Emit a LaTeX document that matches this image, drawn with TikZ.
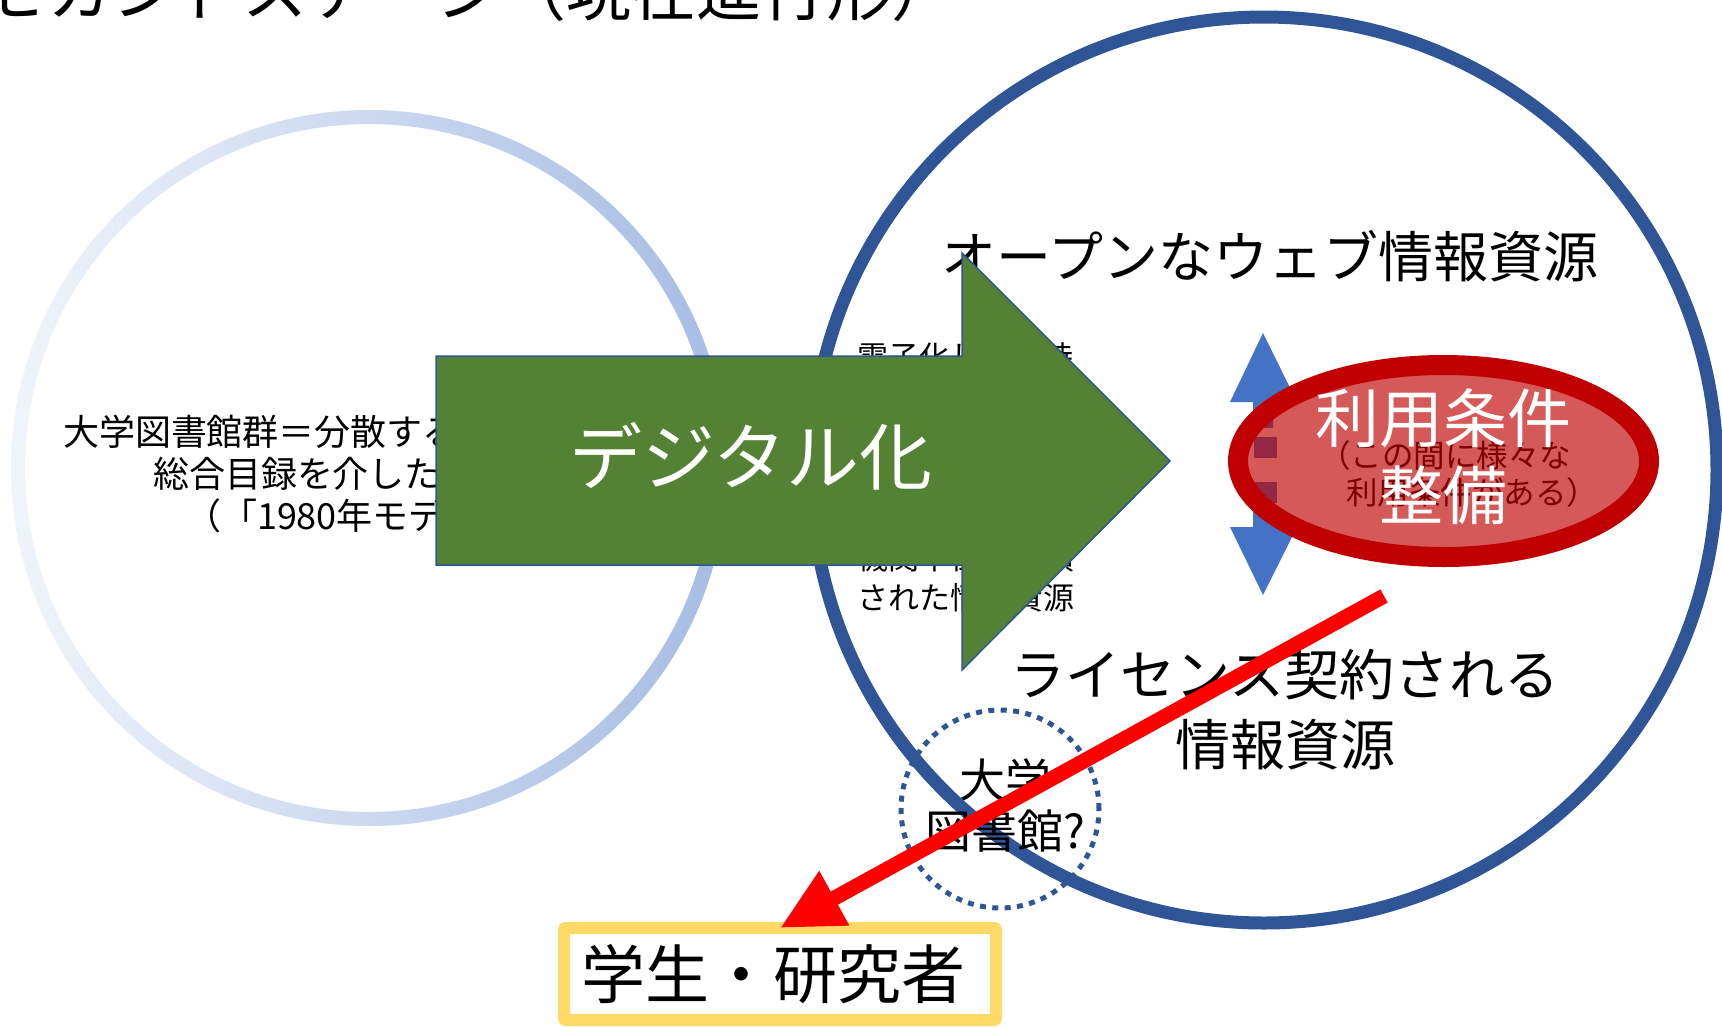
\documentclass[tikz,border=0pt]{standalone}
\usepackage{fontspec}
\setmainfont{Noto Sans CJK JP}
\usetikzlibrary{arrows.meta,shapes.geometric}
\definecolor{darkblue}{HTML}{2F5597}
\definecolor{argreen}{HTML}{548235}
\definecolor{dblue}{HTML}{4472C4}
\definecolor{ellred}{HTML}{C00000}
\definecolor{ringL}{HTML}{F0F4FB}
\definecolor{ringR}{HTML}{A6BCE3}
\definecolor{ybox}{HTML}{FFD966}
\definecolor{arrred}{HTML}{FF0000}
\tikzset{
  fz/.style 2 args={font=\fontsize{#1pt}{#2pt}\selectfont},
  bigring/.style={circle, draw=darkblue, line width=13pt},
  dotring/.style={circle, draw=darkblue, line width=5pt, dash pattern=on 6pt off 6.4pt},
  blockarrow/.style={fill=argreen, draw=darkblue, line width=1.5pt},
  condell/.style={ellipse, draw=ellred, line width=20pt, fill=ellred, fill opacity=0.65},
  studbox/.style={draw=ybox, line width=12pt, rounded corners=2pt, fill=white},
  redarrow/.style={draw=arrred, line width=15pt, -{Triangle[length=62pt,width=58pt]}},
  bulletsq/.style={fill=dblue}
}
\begin{document}
\begin{tikzpicture}[x=1pt,y=-1pt, every node/.style={inner sep=0pt, outer sep=0pt}]
\useasboundingbox (0,0) rectangle (1722,1026);
\fill[white] (0,0) rectangle (1722,1026);
\clip (0,0) rectangle (1722,1026);

% title (cut at top)
\node[fz={65}{70}, anchor=west] (title) at (-17,-9) {セカンドステージ（現在進行形）};

% left ring with gradient
\shade[left color=ringL, right color=ringR, even odd rule]
  (369,468) circle[radius=358pt] (369,468) circle[radius=344pt];
\node[fz={36}{42.3}, align=center] (lefttxt) at (369,474)
  {大学図書館群＝分散する紙媒体の資料\\総合目録を介した相互貸借\\（「1980年モデル」）};

% right circle
\node[bigring, minimum size=906pt] (rc) at (1264,470) {};
\node[fz={55}{60}] (open) at (1270,256) {オープンなウェブ情報資源};
\node[fz={31}{40.2}, align=left, anchor=west] (smalltxt) at (857,477)
  {電子化して保持\\された学術雑誌\\や電子書籍など\\の商用出版物と\\大学等の研究者\\機関単位で蓄積\\された情報資源};

% green block arrow
\fill[blockarrow] (436,356) -- (962,356) -- (962,253) -- (1170,461)
  -- (962,670) -- (962,565) -- (436,565) -- cycle;
\node[fz={73}{80}, text=white] (dig) at (751,456) {デジタル化};

% licensed resources
\node[fz={55}{70}, align=center] (lic) at (1285,710) {ライセンス契約される\\情報資源};

% dotted circle
\node[dotring, minimum size=198pt] (lib) at (1000,809) {};
\node[fz={46}{51}, align=center] (libtxt) at (1005,805.5) {大学\\図書館?};

% blue double arrow
\fill[dblue] (1263,333) -- (1297,402) -- (1273,402) -- (1273,527) -- (1297,527)
  -- (1263,595) -- (1230,527) -- (1253,527) -- (1253,402) -- (1230,402) -- cycle;
\fill[white] (1245,428) rectangle (1610,512);
\fill[bulletsq] (1254,437) rectangle (1277,458);
\fill[bulletsq] (1254,482) rectangle (1277,503);
\node[fz={31.5}{38}, anchor=west] (cond1) at (1319,456) {（この間に様々な};
\node[fz={31.5}{38}, anchor=west] (cond2) at (1346,493) {利用条件がある）};

% red ellipse
\node[condell, minimum width=411pt, minimum height=192pt] (ell) at (1443.5,461) {};
\node[fz={64}{77}, align=center, text=white] (usecond) at (1443.5,456.5) {利用条件\\整備};

% students box
\node[studbox, minimum width=432pt, minimum height=92pt, fz={64}{70}] (stud) at (780,974)
  {\hspace*{-14pt}学生・研究者};

% red arrow
\coordinate (rs) at (1384,596);
\draw[redarrow] (rs) -- (stud.north);
\end{tikzpicture}
\end{document}
